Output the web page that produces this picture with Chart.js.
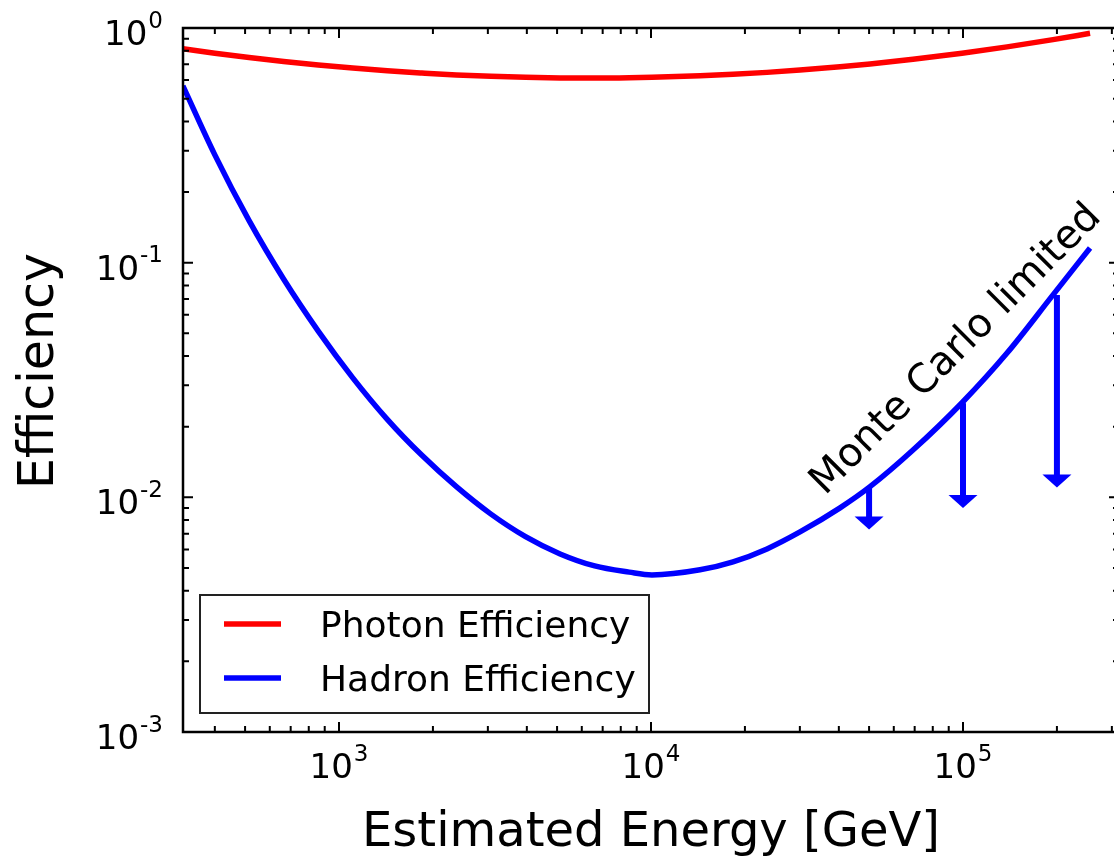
<!DOCTYPE html>
<html><head><meta charset="utf-8">
<script src="https://cdn.jsdelivr.net/npm/chart.js@4/dist/chart.umd.min.js"></script>
<style>html,body{margin:0;padding:0;overflow:hidden;background:#fff}#wrap{width:1120px;height:858px;position:relative}</style>
</head><body><div id="wrap"><canvas id="c" width="1120" height="858"></canvas></div>
<script>
// ---- data ----
const energies   = [316, 400, 515, 665, 858, 1107, 1428, 1844, 2378, 3070, 3961, 5113, 6600, 8514, 10070, 14360, 18320, 23540, 30030, 40360, 50350, 69150, 99260, 138400, 194300, 255400];
const photonEff  = [0.816, 0.781, 0.749, 0.720, 0.696, 0.675, 0.657, 0.643, 0.631, 0.623, 0.617, 0.613, 0.612, 0.614, 0.617, 0.626, 0.635, 0.647, 0.662, 0.684, 0.703, 0.736, 0.781, 0.831, 0.892, 0.949];
const hadronEff  = [0.567, 0.288, 0.151, 0.0850, 0.0511, 0.0323, 0.0215, 0.0151, 0.0111, 0.00848, 0.00680, 0.00574, 0.00510, 0.00480, 0.00467, 0.00491, 0.00531, 0.00603, 0.00712, 0.00902, 0.0111, 0.0159, 0.0253, 0.0412, 0.0729, 0.1155];
const limitEnergies = [50000, 100000, 200000];
const limitFrom     = [0.0111, 0.0252, 0.0728];
const limitTo       = [0.0073, 0.0090, 0.0110];
const seriesLabels  = ['Photon Efficiency', 'Hadron Efficiency'];
const seriesColors  = ['#ff0000', '#0000ff'];
const xTickExps = ['3', '4', '5'];
const yTickExps = ['0', '-1', '-2', '-3'];
const xTitle = 'Estimated Energy [GeV]';
const yTitle = 'Efficiency';
const annotationText = 'Monte Carlo limited';
const xMin = 316.2278, xMax = 316227.8, yMin = 0.001, yMax = 1;

const FONT = '"DejaVu Sans", "Liberation Sans", sans-serif';

function toPts(xs, ys) { return xs.map((x, i) => ({x: x, y: ys[i]})); }

const decor = {
  id: 'decor',
  afterDatasetsDraw(chart) {
    const ctx = chart.ctx, xs = chart.scales.x, ys = chart.scales.y;
    ctx.save();
    ctx.fillStyle = seriesColors[1];
    for (let i = 0; i < limitEnergies.length; i++) {
      const px = xs.getPixelForValue(limitEnergies[i]);
      const pTop = ys.getPixelForValue(limitFrom[i]);
      const pTip = ys.getPixelForValue(limitTo[i]);
      const headH = 13, headW = 29, shaftW = 6;
      ctx.fillRect(px - shaftW / 2, pTop, shaftW, (pTip - headH + 1) - pTop);
      ctx.beginPath();
      ctx.moveTo(px - headW / 2, pTip - headH);
      ctx.lineTo(px + headW / 2, pTip - headH);
      ctx.lineTo(px, pTip);
      ctx.closePath();
      ctx.fill();
    }
    ctx.restore();
  },
  afterDraw(chart) {
    const ctx = chart.ctx, xs = chart.scales.x, ys = chart.scales.y, a = chart.chartArea;
    ctx.save();
    // spines
    ctx.strokeStyle = '#000';
    ctx.lineWidth = 2.5;
    ctx.strokeRect(a.left, a.top, a.right - a.left, a.bottom - a.top);
    // ticks (inward, all four sides)
    ctx.lineWidth = 2;
    const majLen = 10, minLen = 6;
    function xTick(v, len) {
      const p = xs.getPixelForValue(v);
      ctx.beginPath();
      ctx.moveTo(p, a.bottom); ctx.lineTo(p, a.bottom - len);
      ctx.moveTo(p, a.top); ctx.lineTo(p, a.top + len);
      ctx.stroke();
    }
    function yTick(v, len) {
      const p = ys.getPixelForValue(v);
      ctx.beginPath();
      ctx.moveTo(a.left, p); ctx.lineTo(a.left + len, p);
      ctx.moveTo(a.right, p); ctx.lineTo(a.right - len, p);
      ctx.stroke();
    }
    for (let d = 2; d <= 5; d++) {
      for (let m = 1; m <= 9; m++) {
        const v = m * Math.pow(10, d);
        if (v < xMin || v > xMax) continue;
        xTick(v, m === 1 ? majLen : minLen);
      }
    }
    for (let d = -3; d <= 0; d++) {
      for (let m = 1; m <= 9; m++) {
        const v = m * Math.pow(10, d);
        if (v < yMin || v > yMax) continue;
        yTick(v, m === 1 ? majLen : minLen);
      }
    }
    // tick labels with superscript exponents
    ctx.fillStyle = '#000';
    ctx.textBaseline = 'alphabetic';
    ctx.textAlign = 'left';
    const baseFont = '34px ' + FONT, supFont = '23px ' + FONT;
    function measure(exp) {
      ctx.font = baseFont; const w1 = ctx.measureText('10').width;
      ctx.font = supFont; const w2 = ctx.measureText(exp).width;
      return [w1, w2];
    }
    function drawLabel(exp, x0, baseY) {
      const [w1] = measure(exp);
      ctx.font = baseFont; ctx.fillText('10', x0, baseY);
      ctx.font = supFont; ctx.fillText(exp, x0 + w1 + 1, baseY - 17.5);
    }
    xTickExps.forEach(e => {
      const p = xs.getPixelForValue(Math.pow(10, +e));
      const [w1, w2] = measure(e);
      drawLabel(e, p - (w1 + w2 + 1) / 2, a.bottom + 46);
    });
    yTickExps.forEach(e => {
      const p = ys.getPixelForValue(Math.pow(10, +e));
      const [w1, w2] = measure(e);
      drawLabel(e, 163 - (w1 + w2 + 1), p + 17);
    });
    // axis titles
    ctx.font = '48px ' + FONT;
    ctx.textAlign = 'center';
    ctx.fillText(xTitle, (a.left + a.right) / 2, 846);
    ctx.save();
    ctx.font = '49px ' + FONT;
    ctx.translate(53, 371);
    ctx.rotate(-Math.PI / 2);
    ctx.fillText(yTitle, 0, 0);
    ctx.restore();
    // annotation
    ctx.save();
    ctx.font = '40px ' + FONT;
    ctx.textAlign = 'left';
    ctx.translate(825, 496);
    ctx.rotate(-Math.PI / 4);
    ctx.fillText(annotationText, 0, 0);
    ctx.restore();
    // legend
    ctx.fillStyle = '#fff';
    ctx.fillRect(200, 595, 449, 118);
    ctx.strokeStyle = '#222';
    ctx.lineWidth = 2;
    ctx.strokeRect(200, 595, 449, 118);
    ctx.font = '36px ' + FONT;
    ctx.textAlign = 'left';
    seriesLabels.forEach((lab, i) => {
      const yy = 624 + i * 54;
      ctx.strokeStyle = seriesColors[i];
      ctx.lineWidth = 5.5;
      ctx.beginPath(); ctx.moveTo(224, yy); ctx.lineTo(281, yy); ctx.stroke();
      ctx.fillStyle = '#000';
      ctx.fillText(lab, 320, yy + 13);
    });
    ctx.restore();
  }
};

new Chart(document.getElementById('c'), {
  type: 'line',
  data: {
    datasets: [
      { label: seriesLabels[0], data: toPts(energies, photonEff), borderColor: seriesColors[0], borderWidth: 5.5,
        pointRadius: 0, cubicInterpolationMode: 'monotone', fill: false },
      { label: seriesLabels[1], data: toPts(energies, hadronEff), borderColor: seriesColors[1], borderWidth: 5.5,
        pointRadius: 0, cubicInterpolationMode: 'monotone', fill: false }
    ]
  },
  options: {
    responsive: false,
    animation: false,
    devicePixelRatio: 1,
    layout: { padding: { left: 183, top: 28, right: 1, bottom: 126 } },
    plugins: { legend: { display: false }, tooltip: { enabled: false } },
    scales: {
      x: { type: 'logarithmic', min: xMin, max: xMax, display: false },
      y: { type: 'logarithmic', min: yMin, max: yMax, display: false }
    }
  },
  plugins: [decor]
});
</script>
</body></html>
